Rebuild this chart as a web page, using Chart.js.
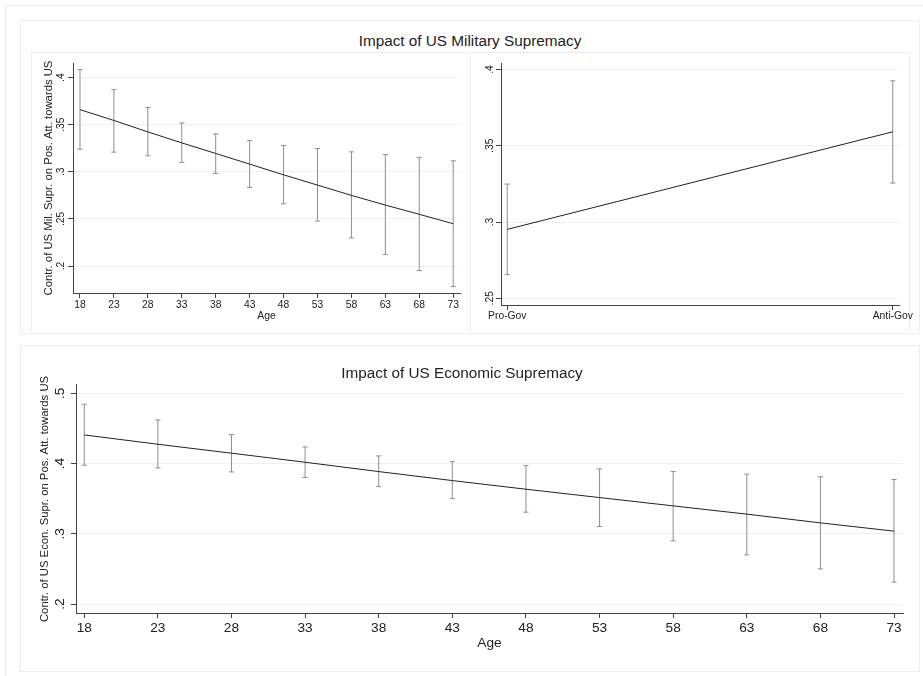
<!DOCTYPE html>
<html>
<head>
<meta charset="utf-8">
<script src="https://cdn.jsdelivr.net/npm/chart.js@4"></script>
<style>
    body { margin: 0; width: 923px; height: 676px; overflow: hidden; background: #fff; position: relative; font-family: "Liberation Sans", Arial, sans-serif; }
    .box { position: absolute; box-sizing: border-box; border: 1px solid #ededed; }
    canvas { position: absolute; }
    .main-title { position: absolute; left: 0; width: 940px; text-align: center; font-size: 15.3px; line-height: 15.3px; color: #222; }
</style>
</head>
<body>
<div class="box" style="left:5px; top:5px; width:960px; height:700px; border-right:none; border-bottom:none;"></div>
<div class="box" style="left:20px; top:20px; width:900px; height:314px;"></div>
<div class="box" style="left:31px; top:52px; width:440px; height:282px;"></div>
<div class="box" style="left:470px; top:52px; width:440px; height:282px;"></div>
<div class="box" style="left:20px; top:345px; width:900px; height:327px;"></div>
<div class="main-title" style="top:33px;">Impact of US Military Supremacy</div>

<canvas id="milAge" width="440" height="282" style="left:31px; top:52px;"></canvas>
<canvas id="milGov" width="452" height="282" style="left:471px; top:52px;"></canvas>
<canvas id="econAge" width="899" height="325" style="left:21px; top:346px;"></canvas>

<script>
// Margins

const ages = [18, 23, 28, 33, 38, 43, 48, 53, 58, 63, 68, 73];

// Military supremacy by age
const milEst = [0.366, 0.3545, 0.3424, 0.3307, 0.3195, 0.3082, 0.2968, 0.2859, 0.275, 0.2647, 0.2549, 0.2449];
const milLo  = [0.324, 0.3209, 0.317, 0.31, 0.2983, 0.2835, 0.2661, 0.2478, 0.2298, 0.2121, 0.1951, 0.1782];
const milHi  = [0.4085, 0.3873, 0.3682, 0.3519, 0.3403, 0.3333, 0.328, 0.3248, 0.3212, 0.3184, 0.3153, 0.3117];
const milTicks = [0.2, 0.25, 0.3, 0.35, 0.4];

// Military supremacy by government stance
const govGroups = ['Pro-Gov', 'Anti-Gov'];
const govEst = [0.2952, 0.3592];
const govLo  = [0.2655, 0.3256];
const govHi  = [0.3249, 0.3926];
const govTicks = [0.25, 0.3, 0.35, 0.4];

// Economic supremacy by age
const econEst = [0.4407, 0.4274, 0.4147, 0.4018, 0.3885, 0.3757, 0.3634, 0.3515, 0.3397, 0.3279, 0.3155, 0.3037];
const econLo  = [0.3976, 0.3937, 0.388, 0.38, 0.3671, 0.35, 0.3307, 0.3103, 0.2899, 0.27, 0.25, 0.2311];
const econHi  = [0.4844, 0.462, 0.4411, 0.4236, 0.4108, 0.4027, 0.397, 0.3923, 0.3885, 0.3848, 0.381, 0.3771];
const econTicks = [0.2, 0.3, 0.4, 0.5];

Chart.defaults.font.family = '"Liberation Sans", Arial, sans-serif';
Chart.defaults.color = '#222';

const AXIS = '#444';
const GRID = '#efefef';
const CI = '#8e8e8e';

// Stata style: drop the leading zero
function fmt(v) {
    return String(v).replace(/^0\./, '.');
}

function estPoints(xs, ys) {
    return xs.map((x, i) => ({ x: x, y: ys[i] }));
}

// one dataset for all whiskers, broken by nulls
function ciPoints(xs, lo, hi) {
    const out = [];
    xs.forEach((x, i) => {
        out.push({ x: x, y: lo[i] }, { x: x, y: hi[i] }, { x: x, y: null });
    });
    return out;
}

function datasets(xs, est, lo, hi) {
    return [
        {
            data: estPoints(xs, est),
            borderColor: '#222',
            borderWidth: 1,
            pointRadius: 0,
            tension: 0
        },
        {
            data: ciPoints(xs, lo, hi),
            borderColor: CI,
            borderWidth: 1,
            pointStyle: 'line',
            pointRadius: 2.6,
            pointBorderColor: CI,
            pointBorderWidth: 1,
            spanGaps: false
        }
    ];
}

function makeChart(id, opts) {
    const yScale = {
        type: 'linear',
        min: opts.yMin,
        max: opts.yMax,
        afterBuildTicks: s => { s.ticks = opts.yTicks.map(v => ({ value: v })); },
        afterFit: s => { s.width = opts.yWidth; s.paddingTop = 0; s.paddingBottom = 0; },
        ticks: {
            autoSkip: false,
            minRotation: 90,
            maxRotation: 90,
            crossAlign: 'center',
            padding: opts.yTickPad,
            font: { size: opts.tickSize },
            callback: v => fmt(v)
        },
        grid: { color: GRID, tickColor: AXIS, tickLength: 5, lineWidth: 1 },
        border: { color: AXIS, width: 1 },
        title: {
            display: !!opts.yTitle,
            text: opts.yTitle || '',
            font: { size: 11.3 },
            padding: { top: opts.yTitlePad, bottom: 0 }
        }
    };

    const xScale = {
        type: 'linear',
        min: opts.xMin,
        max: opts.xMax,
        afterBuildTicks: s => { s.ticks = opts.xTicks.map(v => ({ value: v })); },
        afterFit: s => { s.height = opts.xHeight; s.paddingLeft = 0; s.paddingRight = 0; },
        ticks: {
            autoSkip: false,
            maxRotation: 0,
            padding: opts.xTickPad,
            font: { size: opts.tickSize },
            callback: opts.xLabel
        },
        grid: { drawOnChartArea: false, tickColor: AXIS, tickLength: 5 },
        border: { color: AXIS, width: 1 },
        title: {
            display: !!opts.xTitle,
            text: opts.xTitle || '',
            font: { size: opts.xTitleSize },
            padding: { top: 0, bottom: opts.xTitlePad }
        }
    };

    return new Chart(document.getElementById(id), {
        type: 'line',
        data: { datasets: opts.datasets },
        options: {
            responsive: false,
            animation: false,
            events: [],
            layout: { padding: opts.padding },
            plugins: {
                legend: { display: false },
                tooltip: { enabled: false },
                title: opts.title ? {
                    display: true,
                    text: opts.title,
                    color: '#222',
                    font: { size: 15.3, weight: 'normal' },
                    padding: { top: 18.1, bottom: 2.5 }
                } : { display: false }
            },
            scales: { x: xScale, y: yScale }
        }
    });
}

// Top left: age, military
makeChart('milAge', {
    datasets: datasets(ages, milEst, milLo, milHi),
    padding: { top: 11, right: 11, left: 0, bottom: 0 },
    xMin: 16.97, xMax: 74, xTicks: ages, xLabel: v => String(v),
    yMin: 0.1714, yMax: 0.4155, yTicks: milTicks,
    yWidth: 42, xHeight: 41,
    tickSize: 10.3, yTickPad: 0, xTickPad: 0.6,
    yTitle: 'Contr. of US Mil. Supr. on Pos. Att. towards US', yTitlePad: 11.5,
    xTitle: 'Age', xTitleSize: 10.5, xTitlePad: 11.7
});

// Top right: government stance, military
makeChart('milGov', {
    datasets: datasets([0, 1], govEst, govLo, govHi),
    padding: { top: 11, right: 23.7, left: 0, bottom: 0 },
    xMin: -0.0163, xMax: 1.017, xTicks: [0, 1], xLabel: v => govGroups[v],
    yMin: 0.2456, yMax: 0.4043, yTicks: govTicks,
    yWidth: 30, xHeight: 29,
    tickSize: 10.3, yTickPad: -1, xTickPad: 0
});

// Bottom: age, economic
makeChart('econAge', {
    datasets: datasets(ages, econEst, econLo, econHi),
    title: 'Impact of US Economic Supremacy',
    padding: { top: 0, right: 17, left: 0, bottom: 0 },
    xMin: 17.44, xMax: 73.61, xTicks: ages, xLabel: v => String(v),
    yMin: 0.1872, yMax: 0.5118, yTicks: econTicks,
    yWidth: 55, xHeight: 58,
    tickSize: 13.7, yTickPad: 4.6, xTickPad: 1.8,
    yTitle: 'Contr. of US Econ. Supr. on Pos. Att. towards US', yTitlePad: 17.2,
    xTitle: 'Age', xTitleSize: 13.7, xTitlePad: 19.6
});
</script>
</body>
</html>
